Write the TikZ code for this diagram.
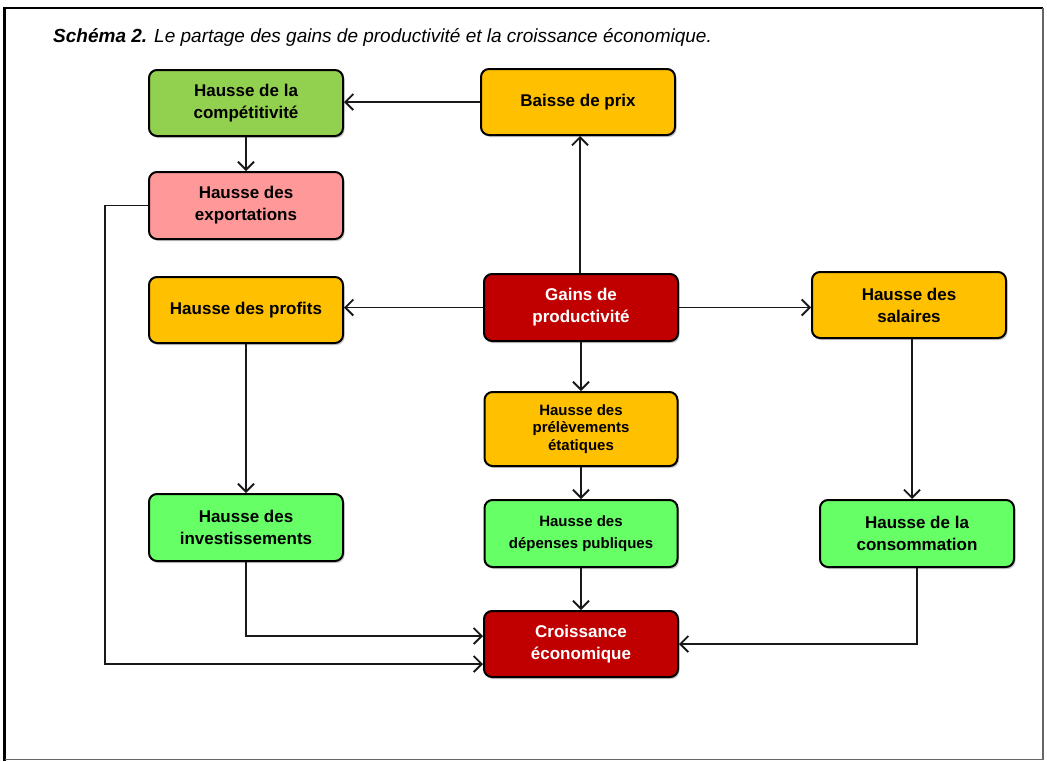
\documentclass[tikz,border=0pt]{standalone}
\usepackage{fontspec}
\setmainfont{Liberation Sans}
\usetikzlibrary{arrows.meta,shadows}
\definecolor{cgreen}{HTML}{92D050}
\definecolor{cpink}{HTML}{FF9999}
\definecolor{corange}{HTML}{FFC000}
\definecolor{cred}{HTML}{C00000}
\definecolor{clgreen}{HTML}{66FF66}
\tikzset{
  box/.style={draw=black, line width=2pt, rounded corners=8pt,
    minimum width=194pt, minimum height=66pt, align=center, inner sep=2pt,
    font=\bfseries\fontsize{17}{22}\selectfont, text=black,
    drop shadow={shadow xshift=1.5pt, shadow yshift=-2pt, fill=black, opacity=0.22}},
  smallbox/.style={box, font=\bfseries\fontsize{15}{17.5}\selectfont},
  redbox/.style={box, fill=cred, text=white},
  arr/.style={line width=1.8pt, draw=black!90, -{Straight Barb[length=8pt,width=16pt]}},
}
\begin{document}
\begin{tikzpicture}[x=1pt,y=-1pt]
\useasboundingbox (0,0) rectangle (1047,761);
\fill[white] (0,0) rectangle (1047,761);
% frame
\draw[line width=2.5pt, black] (4.5,761) -- (4.5,8) -- (1043,8);
\draw[line width=1.5pt, black!60] (1043,8) -- (1043,759.5) -- (4.5,759.5);
% title
\node[anchor=west, inner sep=0pt, font=\itshape\fontsize{19}{22}\selectfont] (title) at (53,37)
  {{\bfseries Schéma 2.} Le partage des gains de productivité et la croissance économique.};
% nodes
\node[box, fill=cgreen] (comp) at (246,103) {Hausse de la\\compétitivité};
\node[box, fill=corange] (prix) at (578,102) {Baisse de prix};
\node[box, fill=cpink, minimum height=67pt] (expo) at (246,205.5) {Hausse des\\exportations};
\node[box, fill=corange] (profits) at (246,310) {Hausse des profits};
\node[redbox, minimum height=67pt] (gains) at (581,307.5) {Gains de\\productivité};
\node[box, fill=corange] (sal) at (909,305) {Hausse des\\salaires};
\node[smallbox, fill=corange, minimum width=193pt, minimum height=74pt] (prel) at (581,429) {Hausse des\\prélèvements\\étatiques};
\node[box, fill=clgreen, minimum height=67pt] (invest) at (246,527.5) {Hausse des\\investissements};
\node[smallbox, fill=clgreen, minimum width=193pt, minimum height=67pt, font=\bfseries\fontsize{15}{22}\selectfont] (dep) at (581,533.5) {Hausse des\\dépenses publiques};
\node[box, fill=clgreen, minimum height=67pt] (conso) at (917,533.5) {Hausse de la\\consommation};
\node[redbox] (croiss) at (581,644) {Croissance\\économique};
% connectors
\draw[arr] (prix.west) -- (prix.west -| comp.east);
\draw[arr] (comp) -- (expo);
\draw[arr] ([xshift=-1pt]gains.north) -- ([xshift=-1pt]gains.north |- prix.south);
\draw[arr] (gains.west) -- (gains.west -| profits.east);
\draw[arr] (gains.east) -- (gains.east -| sal.west);
\draw[arr] (gains) -- (prel);
\draw[arr] (prel) -- (dep);
\draw[arr] (dep) -- (croiss);
\draw[arr] (profits) -- (invest);
\draw[arr] ([xshift=3pt]sal.south) -- ([xshift=3pt]sal.south |- conso.north);
\draw[arr] (invest.south) |- ([yshift=8pt]croiss.west);
\draw[arr] (expo.west) -- ++(-43,0) |- ([yshift=-20pt]croiss.west);
\draw[arr] (conso.south) |- (croiss.east);
\end{tikzpicture}
\end{document}
